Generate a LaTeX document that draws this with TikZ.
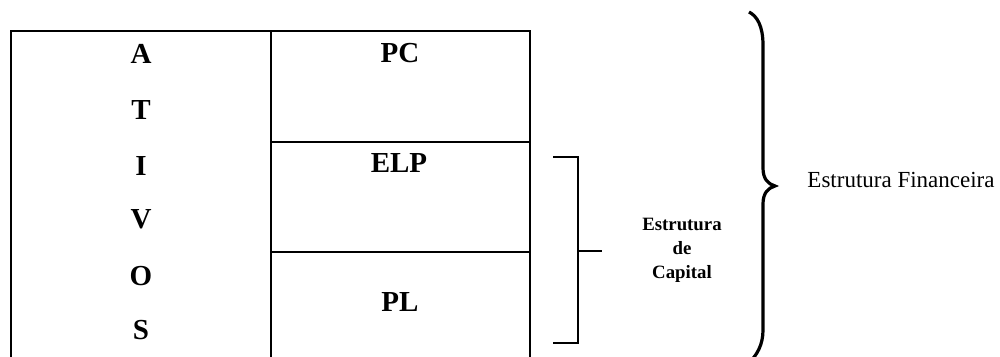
\documentclass[tikz,border=0pt]{standalone}
\usepackage{fontspec}
\setmainfont{Liberation Serif}
\usepackage{tikz}

\begin{document}
\begin{tikzpicture}[x=0.5pt,y=-0.5pt,
	linha/.style={line width=1pt},
	letra/.style={inner sep=0pt,font=\fontsize{14.5}{17}\selectfont\bfseries},
	rotulo/.style={inner sep=0pt,align=center,font=\fontsize{9.4}{12}\selectfont\bfseries}]
					\useasboundingbox (0,0) rectangle (1000,357);
					\clip (0,0) rectangle (1000,357);
					\coordinate (a1) at (11,31);
					\coordinate (a2) at (271,31);
					\coordinate (a3) at (530,31);
					\coordinate (b1) at (271,142);
					\coordinate (b2) at (530,142);
					\coordinate (c1) at (271,252);
					\coordinate (c2) at (530,252);
					\coordinate (d1) at (11,364);
					\coordinate (d2) at (271,364);
					\coordinate (d3) at (530,364);
					\coordinate (k1) at (553,157);
					\coordinate (k2) at (578,157);
					\coordinate (k3) at (578,343);
					\coordinate (k4) at (553,343);
					\coordinate (k5) at (578,251);
					\coordinate (k6) at (602,251);
					
					\draw[linha] (a1) rectangle (d3);
					\draw[linha] (a2) to[] (d2);
					\draw[linha] (b1) to[] (b2);
					\draw[linha] (c1) to[] (c2);
					\draw[line width=1.3pt] (k1) to[] (k2) to[] (k3) to[] (k4);
					\draw[line width=1.3pt] (k5) to[] (k6);
					\draw[line width=1.6pt] (749,12) .. controls (757,16) and (763,26) .. (763,45) -- (763,168) .. controls (763,179) and (768,184) .. (775,186) .. controls (768,188) and (763,193) .. (763,204) -- (763,330) .. controls (763,345) and (757,355) .. (748,364);
					
					\node (lA) at (141,54) [letra] {A};
					\node (lT) at (141,110) [letra] {T};
					\node (lI) at (141,166) [letra] {I};
					\node (lV) at (141,219) [letra] {V};
					\node (lO) at (141,276) [letra] {O};
					\node (lS) at (141,330) [letra] {S};
					
					\node (pc) at (400,53) [letra] {PC};
					\node (elp) at (399,163) [letra] {ELP};
					\node (pl) at (400,302) [letra] {PL};
					
					\node (capital) at (682,250) [rotulo] {Estrutura\\de\\Capital};
					\node (financeira) at (901,180) [inner sep=0pt,font=\fontsize{11.5}{14}\selectfont] {Estrutura Financeira};
					
				\end{tikzpicture}
\end{document}
